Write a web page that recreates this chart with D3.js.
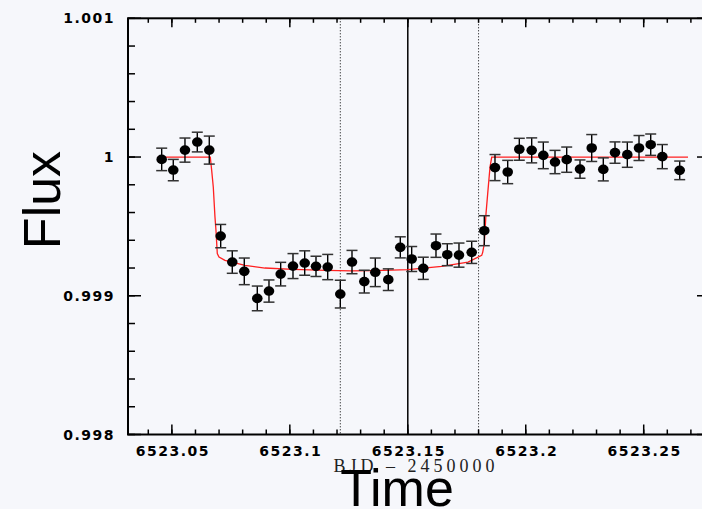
<!DOCTYPE html>
<html lang="en">
<head>
  <meta charset="utf-8">
  <title>Transit light curve</title>
  <script src="https://d3js.org/d3.v7.min.js" type="text/javascript"></script>
<style>
body {
  margin: 0;
  background: #f6f7fb;
}
svg {
  display: block;
  background: #f6f7fb;
}
.tick-label {
  font-family: "DejaVu Sans", sans-serif;
  font-weight: bold;
  font-size: 14px;
  letter-spacing: 1.5px;
  fill: #000;
}
.big-label {
  font-family: "Liberation Sans", Arial, sans-serif;
  font-size: 52px;
  fill: #000;
}
.sub-label {
  font-family: "Liberation Serif", serif;
  font-size: 18px;
  letter-spacing: 4px;
  fill: #222;
}
</style>
</head>
<body>
<svg></svg>

<script>

// observed points: BJD - 2450000, relative flux, error (ppm)
var times = [6523.04568, 6523.05059, 6523.05555, 6523.06077, 6523.06585, 6523.07069,
  6523.07560, 6523.08069, 6523.08620, 6523.09116, 6523.09612, 6523.10134, 6523.10630,
  6523.11109, 6523.11605, 6523.12139, 6523.12635, 6523.13156, 6523.13622, 6523.14173,
  6523.14682, 6523.15165, 6523.15657, 6523.16195, 6523.16674, 6523.17170, 6523.17709,
  6523.18243, 6523.18696, 6523.19235, 6523.19727, 6523.20252, 6523.20744, 6523.21240,
  6523.21736, 6523.22300, 6523.22796, 6523.23287, 6523.23783, 6523.24305, 6523.24801,
  6523.25297, 6523.25789, 6523.26526];
var fluxes = [0.999983, 0.999906, 1.000050, 1.000108, 1.000050, 0.999430,
  0.999243, 0.999176, 0.998981, 0.999034, 0.999156, 0.999214, 0.999236,
  0.999212, 0.999207, 0.999012, 0.999243, 0.999102, 0.999169, 0.999116,
  0.999349, 0.999265, 0.999198, 0.999361, 0.999296, 0.999293, 0.999313,
  0.999469, 0.999924, 0.999892, 1.000056, 1.000048, 1.000012, 0.999964,
  0.999981, 0.999913, 1.000065, 0.999911, 1.000032, 1.000017, 1.000065,
  1.000089, 1.000003, 0.999904];
var errorsPpm = [81, 77, 87, 71, 101, 84, 81, 96, 89, 80, 85, 90, 88, 73, 91, 100,
  84, 82, 103, 78, 76, 90, 80, 84, 79, 87, 80, 108, 94, 84, 79, 90, 96, 84, 91, 66,
  97, 83, 77, 91, 90, 77, 87, 67];

// fitted transit model
var modelTimes = [6523.04398, 6523.06628, 6523.06687, 6523.06755, 6523.06827, 6523.06869,
  6523.06925, 6523.06997, 6523.07251, 6523.08099, 6523.08947, 6523.10133, 6523.11562,
  6523.12592, 6523.13610, 6523.15009, 6523.16437, 6523.17552, 6523.18133, 6523.18175,
  6523.18243, 6523.18315, 6523.18387, 6523.18485, 6523.18557, 6523.26878];
var modelFluxes = [1.0, 1.0, 0.999904, 0.999784, 0.999567, 0.999471,
  0.999304, 0.999279, 0.999255, 0.999219, 0.999200, 0.999190, 0.999183,
  0.999179, 0.999181, 0.999188, 0.999212, 0.999243, 0.999291, 0.999313,
  0.999376, 0.999592, 0.999736, 0.999928, 1.0, 1.0];

// vertical markers
var dottedMarks = [6523.1214, 6523.1800];
var solidMarks = [6523.15];

var xTicks = [6523.05, 6523.1, 6523.15, 6523.2, 6523.25];
var xTickLabels = ['6523.05', '6523.1', '6523.15', '6523.2', '6523.25'];
var yTicks = [0.998, 0.999, 1, 1.001];
var yTickLabels = ['0.998', '0.999', '1', '1.001'];

function drawLightCurve() {
  var width = 702, height = 509;
  var left = 128, right = 710, top = 18.3, bottom = 434.5;

  var svg = d3.select('svg')
    .attr('width', width)
    .attr('height', height);

  var x = d3.scaleLinear()
    .domain([6523.0314, 6523.2781])
    .range([left, right]);
  var y = d3.scaleLinear()
    .domain([0.998, 1.001])
    .range([bottom, top]);

  var points = times.map((t, i) => ({t, f: fluxes[i], e: errorsPpm[i] / 1e6}));

  // minor ticks
  var xMinor = d3.range(6523.04, 6523.28, 0.01).filter(v => x(v) > left + 1 && x(v) < right - 1);
  var yMinor = d3.range(0, 16).map(i => 0.998 + i * 0.0002);

  var axes = svg.append('g')
    .attr('stroke', '#000')
    .attr('fill', 'none');

  // frame
  axes.append('rect')
    .attr('x', left)
    .attr('y', top)
    .attr('width', right - left)
    .attr('height', bottom - top)
    .attr('stroke-width', 2);

  function tickLines(list, len, horizontal) {
    list.forEach(v => {
      if (horizontal) {
        axes.append('line').attr('x1', x(v)).attr('x2', x(v)).attr('y1', bottom).attr('y2', bottom - len).attr('stroke-width', 1.5);
        axes.append('line').attr('x1', x(v)).attr('x2', x(v)).attr('y1', top).attr('y2', top + len * 0.9).attr('stroke-width', 1.5);
      } else {
        axes.append('line').attr('y1', y(v)).attr('y2', y(v)).attr('x1', left).attr('x2', left + len).attr('stroke-width', 1.5);
        axes.append('line').attr('y1', y(v)).attr('y2', y(v)).attr('x1', right).attr('x2', right - len).attr('stroke-width', 1.5);
      }
    });
  }
  tickLines(xMinor, 5, true);
  tickLines(xTicks, 10, true);
  tickLines(yMinor, 7, false);
  tickLines(yTicks, 13, false);

  // marker lines
  svg.selectAll('.dotted-mark')
    .data(dottedMarks)
    .enter()
    .append('line')
    .attr('x1', d => x(d))
    .attr('x2', d => x(d))
    .attr('y1', top)
    .attr('y2', bottom)
    .attr('stroke', '#000')
    .attr('stroke-width', 1)
    .attr('stroke-dasharray', '1,2');
  svg.selectAll('.solid-mark')
    .data(solidMarks)
    .enter()
    .append('line')
    .attr('x1', d => x(d))
    .attr('x2', d => x(d))
    .attr('y1', top)
    .attr('y2', bottom)
    .attr('stroke', '#000')
    .attr('stroke-width', 1.5);

  // model curve
  var line = d3.line()
    .x(d => x(d[0]))
    .y(d => y(d[1]));
  svg.append('path')
    .attr('d', line(modelTimes.map((t, i) => [t, modelFluxes[i]])))
    .attr('fill', 'none')
    .attr('stroke', '#ff2020')
    .attr('stroke-width', 1.3);

  // error bars
  var bars = svg.append('g').selectAll('g')
    .data(points)
    .enter()
    .append('g');
  bars.append('line')
    .attr('x1', d => x(d.t))
    .attr('x2', d => x(d.t))
    .attr('y1', d => y(d.f + d.e))
    .attr('y2', d => y(d.f - d.e))
    .attr('stroke', '#000')
    .attr('stroke-width', 1.4);
  bars.append('line')
    .attr('x1', d => x(d.t) - 5.5)
    .attr('x2', d => x(d.t) + 5.5)
    .attr('y1', d => y(d.f + d.e))
    .attr('y2', d => y(d.f + d.e))
    .attr('stroke', '#333')
    .attr('stroke-width', 1.5);
  bars.append('line')
    .attr('x1', d => x(d.t) - 5.5)
    .attr('x2', d => x(d.t) + 5.5)
    .attr('y1', d => y(d.f - d.e))
    .attr('y2', d => y(d.f - d.e))
    .attr('stroke', '#333')
    .attr('stroke-width', 1.5);
  bars.append('ellipse')
    .attr('cx', d => x(d.t))
    .attr('cy', d => y(d.f))
    .attr('rx', 5.3)
    .attr('ry', 4.8)
    .attr('fill', '#000');

  // tick labels
  svg.selectAll('.xlab')
    .data(xTicks)
    .enter()
    .append('text')
    .attr('class', 'tick-label')
    .attr('x', d => x(d) + 1)
    .attr('y', 456)
    .attr('text-anchor', 'middle')
    .text((d, i) => xTickLabels[i]);
  svg.selectAll('.ylab')
    .data(yTicks)
    .enter()
    .append('text')
    .attr('class', 'tick-label')
    .attr('x', 115)
    .attr('y', d => y(d) + 5)
    .attr('text-anchor', 'end')
    .text((d, i) => yTickLabels[i]);

  // axis titles
  svg.append('text')
    .attr('class', 'sub-label')
    .attr('x', 416)
    .attr('y', 472)
    .attr('text-anchor', 'middle')
    .text('BJD – 2450000');
  svg.append('text')
    .attr('class', 'big-label')
    .attr('x', 397)
    .attr('y', 506)
    .attr('text-anchor', 'middle')
    .text('Time');
  svg.append('text')
    .attr('class', 'big-label')
    .attr('transform', 'translate(60, 200) rotate(-90)')
    .attr('text-anchor', 'middle')
    .text('Flux');
}

drawLightCurve()

</script>
</body>
</html>
